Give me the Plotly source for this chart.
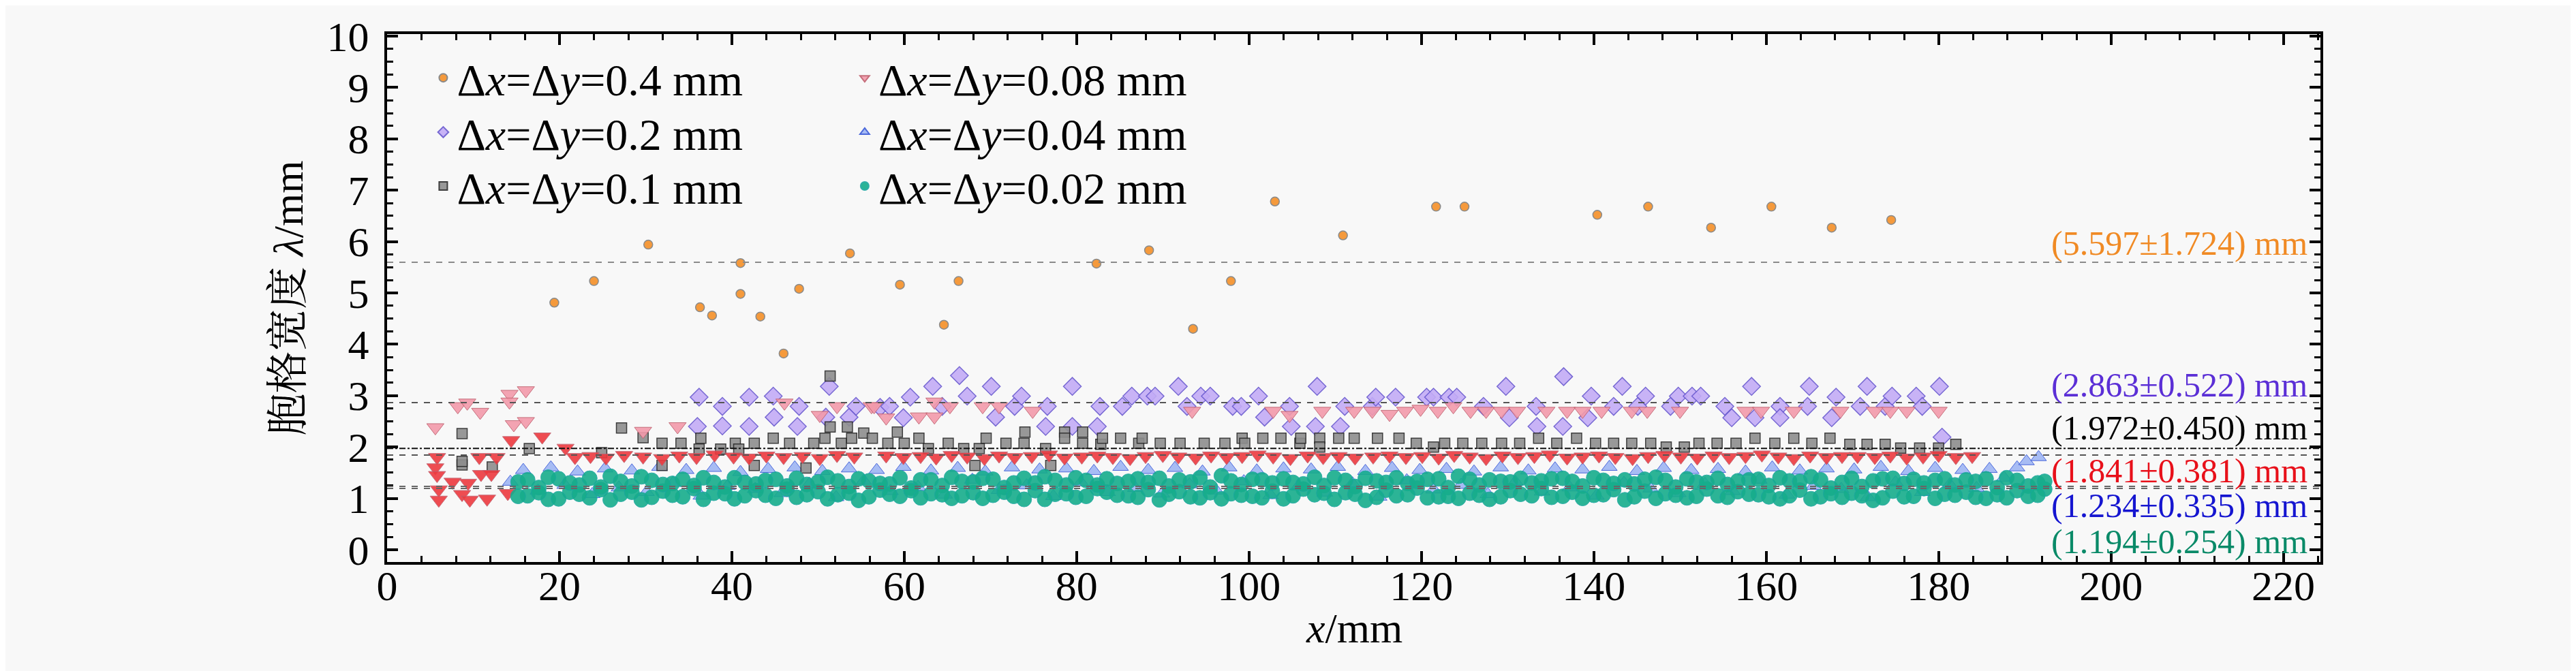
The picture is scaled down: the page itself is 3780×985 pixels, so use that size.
import plotly.graph_objects as go

# data -----------------------------------------------------------------------------------------
x_04 = [19.4, 24.0, 30.3, 36.3, 37.7, 41.0, 41.0, 43.3, 46.0, 47.8, 53.7, 59.5, 64.6, 66.3,
        82.3, 88.4, 93.5, 97.9, 103.0, 110.9, 121.7, 125.0, 140.4, 146.3, 153.6, 160.6, 167.6, 174.5]
y_04 = [4.81, 5.23, 5.94, 4.72, 4.56, 5.58, 4.98, 4.54, 3.82, 5.08, 5.77, 5.16, 4.38, 5.23,
        5.57, 5.83, 4.30, 5.23, 6.78, 6.12, 6.68, 6.68, 6.52, 6.68, 6.27, 6.68, 6.27, 6.42]

x_02 = [36.0, 36.2, 38.9, 38.9, 42.0, 42.0, 44.8, 44.9, 47.6, 47.8, 50.9, 51.3, 53.6, 54.4,
        57.2, 58.3, 59.9, 60.7, 63.3, 64.4, 66.4, 67.3, 70.1, 70.6, 72.8, 73.6, 76.4, 76.6,
        79.5, 79.5, 82.4, 82.7, 85.3, 86.4, 88.2, 89.1, 91.8, 92.8, 94.4, 95.5, 98.1, 99.1,
        101.1, 101.8, 104.7, 104.9, 107.7, 107.9, 110.6, 111.1, 114.3, 114.7, 117.0, 120.6,
        121.4, 123.2, 124.1, 127.2, 129.8, 130.2, 133.3, 133.4, 136.4, 136.5, 139.3, 139.7,
        142.3, 143.3, 145.1, 146.0, 148.9, 149.8, 151.4, 152.4, 155.2, 156.0, 158.3, 158.7,
        161.6, 161.6, 164.8, 165.0, 167.6, 168.1, 170.9, 171.7, 173.8, 174.6, 177.4, 178.1,
        180.1, 180.4]
y_02 = [2.40, 2.97, 2.79, 2.41, 2.97, 2.40, 2.99, 2.58, 2.40, 2.79, 2.58, 3.18, 2.58, 2.79,
        2.77, 2.79, 2.57, 2.97, 3.18, 2.79, 3.39, 2.99, 3.18, 2.58, 2.79, 2.99, 2.40, 2.79,
        3.18, 2.40, 2.40, 2.79, 2.79, 2.99, 2.99, 2.99, 3.18, 2.79, 2.99, 2.99, 2.79, 2.79,
        2.99, 2.58, 2.79, 2.40, 2.40, 3.18, 2.40, 2.79, 2.79, 2.97, 2.97, 2.97,
        2.97, 2.97, 2.97, 2.79, 3.18, 2.57, 2.79, 2.40, 2.40, 3.37, 2.57, 2.99,
        2.79, 3.18, 2.79, 2.99, 2.79, 2.99, 2.99, 2.99, 2.79, 2.57, 3.18, 2.57,
        2.79, 2.57, 2.79, 3.18, 2.57, 2.97, 2.79, 3.18, 2.79, 2.99, 2.99, 2.79,
        3.18, 2.19]

x_01 = [8.7, 8.7, 8.7, 12.2, 16.5, 24.9, 27.2, 29.7, 31.9, 31.9, 34.1, 36.2, 36.4, 38.7,
        40.4, 40.8, 42.6, 42.6, 44.8, 46.7, 48.6, 49.5, 50.8, 51.4, 51.4, 52.7, 53.4, 53.9,
        55.3, 56.3, 58.1, 59.2, 60.0, 61.7, 62.8, 65.1, 66.9, 68.2, 68.7, 69.5, 71.8, 73.9,
        74.0, 76.4, 77.0, 78.6, 78.6, 80.7, 80.7, 82.8, 83.0, 85.1, 87.2, 87.6, 89.7, 92.0,
        94.8, 97.2, 99.2, 99.5, 101.6, 103.7, 105.9, 106.0, 108.2, 108.2, 110.4, 112.2,
        114.9, 117.4, 119.4, 121.4, 122.7, 124.8, 127.0, 129.3, 131.4, 133.6, 135.7, 138.0,
        140.2, 142.3, 144.4, 146.6, 148.4, 150.5, 152.2, 154.3, 156.5, 158.7, 161.0, 163.2,
        165.3, 167.4, 169.7, 171.7, 173.8, 175.6, 177.8, 180.0, 182.0]
y_01 = [2.26, 1.65, 1.72, 1.61, 1.97, 1.89, 2.37, 2.18, 2.07, 1.64, 2.07, 1.96, 2.17, 1.96,
        2.07, 1.96, 2.07, 1.64, 2.17, 2.07, 1.59, 2.07, 2.17, 3.38, 2.39, 2.07, 2.39, 2.17,
        2.27, 2.17, 2.07, 2.29, 2.07, 2.17, 1.97, 2.07, 1.97, 1.64, 1.97, 2.17, 2.07, 2.07,
        2.29, 1.97, 1.64, 2.29, 2.17, 2.29, 2.07, 2.05, 2.17, 2.17, 2.07, 2.17, 2.07, 2.07,
        2.07, 2.07, 2.17, 2.07, 2.17, 2.17, 2.07, 2.17, 2.17, 2.00, 2.17, 2.17,
        2.17, 2.17, 2.07, 2.00, 2.07, 2.07, 2.07, 2.07, 2.07, 2.17, 2.07, 2.17,
        2.07, 2.07, 2.07, 2.07, 2.00, 2.00, 2.07, 2.07, 2.07, 2.17, 2.07, 2.17,
        2.07, 2.17, 2.05, 2.05, 2.05, 1.98, 1.98, 1.98, 2.05]

x_008 = [5.6, 5.8, 5.6, 5.8, 6.0, 6.0, 7.6, 8.2, 8.7, 9.3, 9.4, 9.6, 10.7, 10.8, 10.9, 11.6,
         12.1, 12.7, 14.0, 14.2, 14.2, 14.4, 14.7, 16.1, 16.1, 18.0, 20.7, 21.8,
         29.7, 33.7, 46.1, 50.2, 52.2, 56.2,
         23.6, 25.4, 27.5, 29.7, 31.9, 33.9, 35.9, 38.0, 40.2, 42.0, 44.0, 46.0, 48.2, 50.2,
         52.2, 54.2,
         57.9, 59.9, 61.9, 63.7, 65.5, 67.3, 69.3, 71.0, 72.8, 74.8, 76.8, 78.6, 80.6, 82.4,
         84.2, 86.2, 88.0, 90.0, 91.8, 93.8, 95.6, 97.4, 99.2, 101.0, 102.8, 104.8, 106.8,
         108.6, 110.4, 112.3,
         56.5, 57.9, 61.7, 63.5, 63.5, 65.3, 69.1, 71.0, 74.9, 93.4, 102.8, 104.7, 108.5, 112.2,
         114.4, 116.3, 118.2, 120.1, 122.0, 123.8, 125.6, 127.5, 129.4, 131.2, 133.1, 134.9,
         136.9, 138.7, 140.6, 142.5, 144.5, 146.3, 148.2, 150.1, 152.0, 153.9, 155.7, 157.6,
         159.5, 161.4, 163.2, 165.1, 167.0, 168.8,
         114.3, 116.3, 118.1, 119.9, 121.9, 123.7, 125.7, 127.5, 129.3, 131.1, 134.5, 136.9,
         138.7, 140.9, 144.4, 146.2, 150.0, 157.6, 159.4, 163.2, 168.6,
         170.6, 172.6, 174.4, 176.3, 178.2, 180.0, 182.0, 183.9,
         172.6, 174.4, 176.3, 180.0]
y_008 = [2.38, 1.80, 1.60, 1.45, 1.17, 0.97, 1.32, 2.79, 1.08, 2.86, 1.30, 0.97, 1.80, 2.68,
         1.47, 0.99, 1.47, 1.80, 1.10, 3.03, 2.88, 2.13, 2.44, 3.10, 2.50, 2.20, 1.98, 1.80,
         2.31, 2.40, 2.86, 2.62, 2.79, 2.79,
         1.82, 1.79, 1.84, 1.81, 1.78, 1.83, 1.80, 1.85, 1.81, 1.79, 1.83, 1.80, 1.82, 1.78,
         1.84, 1.81,
         1.83, 1.80, 1.82, 1.79, 1.84, 1.81, 1.78, 1.83, 1.80, 1.82, 1.85, 1.79, 1.81, 1.83,
         1.80, 1.78, 1.82, 1.84, 1.81, 1.79, 1.83, 1.80, 1.82, 1.85, 1.81, 1.78, 1.83,
         1.80, 1.82, 1.79,
         2.79, 2.57, 2.59, 2.88, 2.59, 2.79, 2.79, 2.79, 2.70, 2.70, 2.70, 2.62, 2.70, 2.70,
         1.81, 1.83, 1.80, 1.82, 1.79, 1.84, 1.81, 1.78, 1.83, 1.80, 1.82, 1.85,
         1.79, 1.81, 1.83, 1.80, 1.78, 1.82, 1.84, 1.81, 1.79, 1.83, 1.80, 1.82,
         1.85, 1.81, 1.78, 1.83, 1.80, 1.82,
         2.70, 2.64, 2.70, 2.74, 2.70, 2.79, 2.70, 2.70, 2.70, 2.70, 2.70, 2.70,
         2.70, 2.70, 2.70, 2.70, 2.70, 2.70, 2.70, 2.70, 2.70,
         1.82, 1.80, 1.83, 1.79, 1.81, 1.84, 1.80, 1.82,
         2.70, 2.70, 2.70, 2.70]

x_004 = [14.3, 15.8, 17.5, 19.0, 20.6, 22.1, 23.8, 25.3, 26.9, 28.4,
         30.1, 31.6, 33.2, 34.7, 36.4, 37.9, 39.5, 41.0, 42.7, 44.2,
         45.8, 47.3, 49.0, 50.5, 52.1, 53.6, 55.3, 56.8, 58.4, 59.9,
         61.6, 63.1, 64.7, 66.2, 67.9, 69.4, 71.0, 72.5, 74.2, 75.7,
         77.3, 78.8, 80.5, 82.0, 83.6, 85.1, 86.8, 88.3, 89.9, 91.4,
         93.1, 94.6, 96.2, 97.7, 99.4, 100.9, 102.5, 104.0, 105.7, 107.2,
         108.8, 110.3, 112.0, 113.5, 115.1, 116.6, 118.3, 119.8, 121.4, 122.9,
         124.6, 126.1, 127.7, 129.2, 130.9, 132.4, 134.0, 135.5, 137.2, 138.7,
         140.3, 141.8, 143.5, 145.0, 146.6, 148.1, 149.8, 151.3, 152.9, 154.4,
         156.1, 157.6, 159.2, 160.7, 162.4, 163.9, 165.5, 167.0, 168.7, 170.2,
         171.8, 173.3, 175.0, 176.5, 178.1, 179.6, 181.3, 182.8, 184.4, 185.9,
         187.6, 189.1, 190.2, 191.6]
y_004 = [1.32, 1.55, 1.15, 1.60, 1.26, 1.52, 1.08, 1.58, 1.21, 1.54,
         1.12, 1.61, 1.30, 1.55, 1.05, 1.59, 1.24, 1.51, 1.18, 1.57,
         1.10, 1.60, 1.28, 1.53, 1.02, 1.58, 1.34, 1.55, 1.14, 1.61,
         1.22, 1.54, 1.07, 1.59, 1.36, 1.52, 1.16, 1.60, 1.25, 1.56,
         1.04, 1.58, 1.31, 1.53, 1.12, 1.61, 1.20, 1.55, 1.09, 1.59,
         1.27, 1.52, 1.15, 1.60, 1.33, 1.54, 1.06, 1.58, 1.23, 1.56,
         1.11, 1.61, 1.29, 1.53, 1.03, 1.59, 1.35, 1.55, 1.17, 1.57,
         1.26, 1.52, 1.08, 1.60, 1.32, 1.54, 1.13, 1.58, 1.21, 1.56,
         1.05, 1.61, 1.30, 1.53, 1.19, 1.59, 1.10, 1.55, 1.28, 1.57,
         1.14, 1.52, 1.36, 1.60, 1.07, 1.54, 1.24, 1.58, 1.18, 1.56,
         1.02, 1.61, 1.31, 1.53, 1.12, 1.59, 1.27, 1.55, 1.20, 1.57,
         1.40, 1.60, 1.72, 1.80]

x_002 = [15.2, 16.3, 17.6, 18.7, 19.9, 21.2, 22.3, 23.5, 24.8, 25.9,
         27.1, 28.4, 29.5, 30.7, 32.0, 33.1, 34.3, 35.6, 36.7, 37.9,
         39.2, 40.3, 41.5, 42.8, 43.9, 45.1, 46.4, 47.5, 48.7, 50.0,
         51.1, 52.3, 53.6, 54.7, 55.9, 57.2, 58.3, 59.5, 60.8, 61.9,
         63.1, 64.4, 65.5, 66.7, 68.0, 69.1, 70.3, 71.6, 72.7, 73.9,
         75.2, 76.3, 77.5, 78.8, 79.9, 81.1, 82.4, 83.5, 84.7, 86.0,
         87.1, 88.3, 89.6, 90.7, 91.9, 93.2, 94.3, 95.5, 96.8, 97.9,
         99.1, 100.4, 101.5, 102.7, 104.0, 105.1, 106.3, 107.6, 108.7, 109.9,
         111.2, 112.3, 113.5, 114.8, 115.9, 117.1, 118.4, 119.5, 120.7, 122.0,
         123.1, 124.3, 125.6, 126.7, 127.9, 129.2, 130.3, 131.5, 132.8, 133.9,
         135.1, 136.4, 137.5, 138.7, 140.0, 141.1, 142.3, 143.6, 144.7, 145.9,
         147.2, 148.3, 149.5, 150.8, 151.9, 153.1, 154.4, 155.5, 156.7, 158.0,
         159.1, 160.3, 161.6, 162.7, 163.9, 165.2, 166.3, 167.5, 168.8, 169.9,
         171.1, 172.4, 173.5, 174.7, 176.0, 177.1, 178.3, 179.6, 180.7, 181.9,
         183.2, 184.3, 185.5, 186.8, 187.9, 189.1, 190.4, 191.5, 192.3]
# two cells read at each x position (upper / lower part of the band)
y_002a = [1.32, 1.05, 1.21, 0.98, 1.38, 1.12, 1.26, 1.01, 1.17, 1.43,
          1.08, 1.24, 0.97, 1.35, 1.14, 1.29, 1.03, 1.19, 1.40, 1.10,
          1.22, 0.99, 1.31, 1.15, 1.06, 1.37, 1.18, 1.02, 1.27, 1.13,
          1.41, 1.07, 1.23, 0.96, 1.34, 1.16, 1.28, 1.04, 1.20, 1.36,
          1.09, 1.25, 1.00, 1.33, 1.11, 1.39, 1.06, 1.21, 1.30, 0.98,
          1.15, 1.42, 1.08, 1.26, 1.02, 1.35, 1.19, 1.12, 1.29, 1.05,
          1.38, 1.17, 0.97, 1.24, 1.13, 1.32, 1.01, 1.22, 1.44, 1.09,
          1.27, 1.04, 1.36, 1.14, 0.99, 1.31, 1.18, 1.07, 1.25, 1.40,
          1.11, 1.23, 0.96, 1.34, 1.16, 1.05, 1.29, 1.20, 1.37, 1.03,
          1.21, 1.43, 1.10, 1.26, 0.98, 1.33, 1.15, 1.08, 1.30, 1.19,
          1.02, 1.39, 1.12, 1.24, 1.06, 1.35, 1.17, 0.97, 1.28, 1.14,
          1.41, 1.09, 1.22, 1.01, 1.32, 1.18, 1.05, 1.27, 1.13, 1.36,
          1.07, 1.25, 0.99, 1.34, 1.16, 1.42, 1.03, 1.20, 1.31, 1.10,
          1.23, 0.96, 1.38, 1.14, 1.29, 1.04, 1.19, 1.35, 1.08, 1.26,
          1.12, 1.33, 1.00, 1.21, 1.40, 1.15, 1.24, 1.30, 1.18]
y_002b = [1.04, 1.36, 1.11, 1.41, 0.99, 1.30, 1.08, 1.39, 1.22, 0.97,
          1.33, 1.12, 1.42, 1.02, 1.27, 1.06, 1.37, 1.25, 0.98, 1.31,
          1.09, 1.40, 1.05, 1.28, 1.35, 1.00, 1.24, 1.39, 1.07, 1.32,
          0.99, 1.34, 1.10, 1.38, 1.03, 1.29, 1.08, 1.40, 1.15, 1.01,
          1.36, 1.07, 1.41, 1.05, 1.32, 1.00, 1.37, 1.12, 1.04, 1.39,
          1.30, 0.98, 1.35, 1.09, 1.40, 1.04, 1.26, 1.38, 1.06, 1.33,
          1.02, 1.31, 1.39, 1.08, 1.36, 1.03, 1.40, 1.11, 0.99, 1.34,
          1.06, 1.37, 1.01, 1.30, 1.38, 1.05, 1.28, 1.41, 1.10, 0.98,
          1.35, 1.08, 1.39, 1.02, 1.31, 1.40, 1.07, 1.33, 1.01, 1.38,
          1.04, 1.00, 1.37, 1.06, 1.36, 1.03, 1.32, 1.39, 1.05, 1.34,
          1.38, 1.04, 1.33, 1.00, 1.40, 1.07, 1.29, 1.36, 1.03, 1.37,
          1.00, 1.35, 1.06, 1.38, 1.04, 1.31, 1.39, 1.02, 1.34, 1.08,
          1.37, 1.03, 1.40, 1.05, 1.33, 0.99, 1.36, 1.09, 1.02, 1.39,
          1.05, 1.34, 1.01, 1.39, 1.03, 1.37, 1.30, 1.00, 1.38, 1.06,
          1.36, 1.02, 1.38, 1.07, 1.01, 1.35, 1.04, 1.06, 1.33]

# mean +- std of each case, as printed on the chart
means = [5.597, 2.863, 1.972, 1.841, 1.234, 1.194]
stds = [1.724, 0.522, 0.450, 0.381, 0.335, 0.254]

FONT = "Liberation Serif, Noto Serif CJK SC, Noto Sans CJK SC, serif"

fig = go.Figure()

# Scatter series (each legend entry placed on its own, 2 columns x 3 rows) ----------------------
fig.add_scatter(x=x_04, y=y_04, mode='markers', name='Δ<i>x</i>=Δ<i>y</i>=0.4 mm', legend='legend',
                marker=dict(symbol='circle', size=13, color='#f59a3c', line=dict(color='#8a8a8a', width=1.5)))
fig.add_scatter(x=x_02, y=y_02, mode='markers', name='Δ<i>x</i>=Δ<i>y</i>=0.2 mm', legend='legend2',
                marker=dict(symbol='diamond', size=20, color='#c3acf6', opacity=0.9,
                            line=dict(color='#6a5ad0', width=1.5)))
fig.add_scatter(x=x_004, y=y_004, mode='markers', name='Δ<i>x</i>=Δ<i>y</i>=0.04 mm', legend='legend5',
                marker=dict(symbol='triangle-up', size=20, color='#9fb6f4', opacity=0.9,
                            line=dict(color='#3a5ad8', width=1)))
fig.add_scatter(x=x_01, y=y_01, mode='markers', name='Δ<i>x</i>=Δ<i>y</i>=0.1 mm', legend='legend3',
                marker=dict(symbol='square', size=15, color='#8e8e8e', opacity=0.9,
                            line=dict(color='#2a2a2a', width=1.5)))

tri_colors = ['#ee3a3f' if v < 2.25 else '#f39aab' for v in y_008]
fig.add_scatter(x=x_008, y=y_008, mode='markers', name='Δ<i>x</i>=Δ<i>y</i>=0.08 mm', legend='legend4',
                marker=dict(symbol='triangle-down', size=22, color=tri_colors, opacity=0.9,
                            line=dict(color='#c0606e', width=1)))
fig.add_scatter(x=x_002 + x_002, y=y_002a + y_002b, mode='markers', name='Δ<i>x</i>=Δ<i>y</i>=0.02 mm',
                legend='legend6',
                marker=dict(symbol='circle', size=22, color='#16ad8c', opacity=0.9,
                            line=dict(color='#1aa6a0', width=1)))

# Mean lines and labels -----------------------------------------------------------------------
line_styles = [('#8a8a8a', 'dash'), ('#555555', 'dash'), ('#111111', 'dashdot'),
               ('#555555', 'dash'), ('#666666', 'dash'), ('#666666', 'dash')]
label_colors = ['#f08a24', '#5b2fd6', '#000000', '#e8101a', '#1515d0', '#0a8a68']
label_y = [5.97, 3.21, 2.37, 1.54, 0.86, 0.16]

for m, s, (lc, ld), tc, ly in zip(means, stds, line_styles, label_colors, label_y):
    fig.add_hline(y=m, line=dict(color=lc, dash=ld, width=2))
    fig.add_annotation(x=0.994, xref='paper', y=ly, yref='y', xanchor='right', yanchor='middle',
                       text=f'({m:.3f}±{s:.3f}) mm', showarrow=False,
                       font=dict(family=FONT, size=50, color=tc))

# x axis title
fig.add_annotation(x=0.5, xref='paper', y=-0.125, yref='paper', xanchor='center', yanchor='middle',
                   text='<i>x</i>/mm', showarrow=False, font=dict(family=FONT, size=62, color='black'))

# Site properties -----------------------------------------------------------------------------
axis_common = dict(showline=True, linecolor='black', linewidth=4, mirror='allticks',
                   ticks='inside', tickcolor='black', tickwidth=4, ticklen=16,
                   showgrid=False, zeroline=False,
                   tickfont=dict(family=FONT, size=62, color='black'))

legend_style = dict(xanchor='left', yanchor='top', bgcolor='rgba(0,0,0,0)',
                    font=dict(family=FONT, size=66), itemsizing='constant')
col_x = [0.022, 0.240]
row_y = [0.981, 0.878, 0.776]

fig.update_layout(
    width=3780, height=985,
    margin=dict(l=560, r=383, t=35, b=168),
    paper_bgcolor='#f8f8f8', plot_bgcolor='#f8f8f8',
    font=dict(family=FONT, color='black'),
    xaxis=dict(range=[0, 224.3], dtick=20, tick0=0, ticklabelstandoff=-22,
               minor=dict(dtick=4, ticks='inside', ticklen=9, tickwidth=3, tickcolor='black'),
               **axis_common),
    yaxis=dict(range=[-0.24, 10.04], dtick=1, tick0=0, ticklabelstandoff=10,
               minor=dict(dtick=0.25, ticks='inside', ticklen=9, tickwidth=3, tickcolor='black'),
               title=dict(text='胞格宽度 <i>λ</i>/mm', font=dict(family=FONT, size=62), standoff=16),
               **axis_common),
    legend=dict(x=col_x[0], y=row_y[0], **legend_style),
    legend2=dict(x=col_x[0], y=row_y[1], **legend_style),
    legend3=dict(x=col_x[0], y=row_y[2], **legend_style),
    legend4=dict(x=col_x[1], y=row_y[0], **legend_style),
    legend5=dict(x=col_x[1], y=row_y[1], **legend_style),
    legend6=dict(x=col_x[1], y=row_y[2], **legend_style),
    showlegend=True,
)

fig.write_html("out.html")
